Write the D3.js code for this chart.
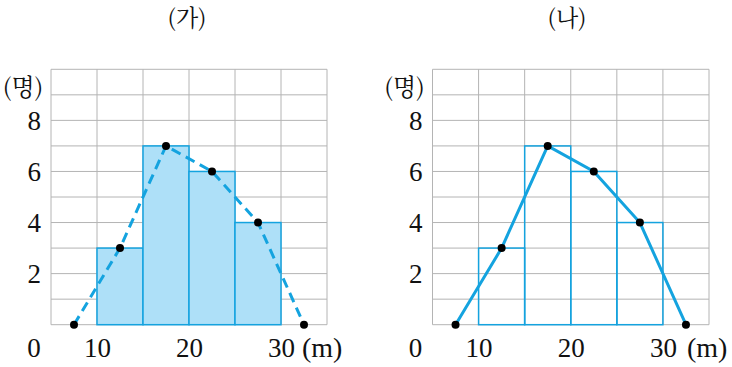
<!DOCTYPE html>
<html><head><meta charset="utf-8">
<script src="https://cdn.jsdelivr.net/npm/d3@7"></script>
<style>
body{margin:0;background:#fff;}
</style></head>
<body>
<svg id="c" width="732" height="367"></svg>
<script>
const binStarts = [10, 15, 20, 25];
const binWidth = 5;
const counts = [3, 7, 6, 4];
const polyX = [7.5, 12.5, 17.5, 22.5, 27.5, 32.5];
const polyY = [0, 3, 7, 6, 4, 0];
const xTicks = [10, 20, 30];
const yTicks = [2, 4, 6, 8];
const titles = ["(가)", "(나)"];

const NUMFONT = "Liberation Serif";
const KRFONT = "Noto Serif CJK KR";
const svg = d3.select("#c");
const panels = [
  {x0: 51, x1: 327, title: titles[0], fill: "#aee0f8", dashed: true, titleX: 187, unitDx: -25},
  {x0: 432.5, x1: 709, title: titles[1], fill: "none", dashed: false, titleX: 567, unitDx: -22}
];
const y = d3.scaleLinear().domain([0, 10]).range([324.7, 69.3]);
const blue = "#14a3df";

function styleText(sel, size, fam) {
  sel.attr("font-family", fam || NUMFONT).attr("font-size", size).attr("fill", "#111");
  return sel;
}

panels.forEach(p => {
  const x = d3.scaleLinear().domain([5, 35]).range([p.x0, p.x1]);
  const g = svg.append("g");
  g.append("g").selectAll("line").data(d3.range(0, 11)).join("line")
    .attr("x1", x(5)).attr("x2", x(35)).attr("y1", d => y(d)).attr("y2", d => y(d))
    .attr("stroke", "#b4b4b4").attr("stroke-width", 1);
  g.append("g").selectAll("line").data(d3.range(5, 36, 5)).join("line")
    .attr("x1", d => x(d)).attr("x2", d => x(d)).attr("y1", y(0)).attr("y2", y(10))
    .attr("stroke", "#b4b4b4").attr("stroke-width", 1);
  g.append("g").selectAll("rect").data(binStarts.map((b, i) => ({b, c: counts[i]}))).join("rect")
    .attr("x", d => x(d.b)).attr("width", d => x(d.b + binWidth) - x(d.b))
    .attr("y", d => y(d.c)).attr("height", d => y(0) - y(d.c))
    .attr("fill", p.fill).attr("stroke", blue).attr("stroke-width", 1.5);
  const pts = polyX.map((v, i) => [x(v), y(polyY[i])]);
  g.append("path").attr("d", d3.line()(pts)).attr("fill", "none")
    .attr("stroke", blue).attr("stroke-width", 3)
    .attr("stroke-dasharray", p.dashed ? "10,6" : null);
  g.append("g").selectAll("circle").data(pts).join("circle")
    .attr("cx", d => d[0]).attr("cy", d => d[1]).attr("r", 4).attr("fill", "#000");
  const xa = g.append("g").attr("transform", `translate(0,${y(0)})`)
    .call(d3.axisBottom(x).tickValues(xTicks).tickSize(0).tickPadding(13));
  xa.select(".domain").remove();
  xa.attr("font-family", NUMFONT).attr("font-size", 27);
  styleText(xa.selectAll("text"), 27);
  const ya = g.append("g").attr("transform", `translate(${p.x0 - 10},0)`)
    .call(d3.axisLeft(y).tickValues(yTicks).tickSize(0).tickPadding(0));
  ya.select(".domain").remove();
  ya.attr("font-family", NUMFONT).attr("font-size", 27);
  styleText(ya.selectAll("text"), 27);
  styleText(g.append("text").attr("x", p.x0 - 17).attr("y", 357).attr("text-anchor", "middle").text("0"), 27);
  styleText(g.append("text").attr("x", x(35) + p.unitDx).attr("y", 357).text("(m)"), 28);
  styleText(g.append("text").attr("x", p.x0 - 28).attr("y", 96).attr("text-anchor", "middle").text("(명)"), 24, KRFONT);
  styleText(g.append("text").attr("x", p.titleX).attr("y", 26).attr("text-anchor", "middle").text(p.title), 23, KRFONT);
});
</script>
</body></html>
